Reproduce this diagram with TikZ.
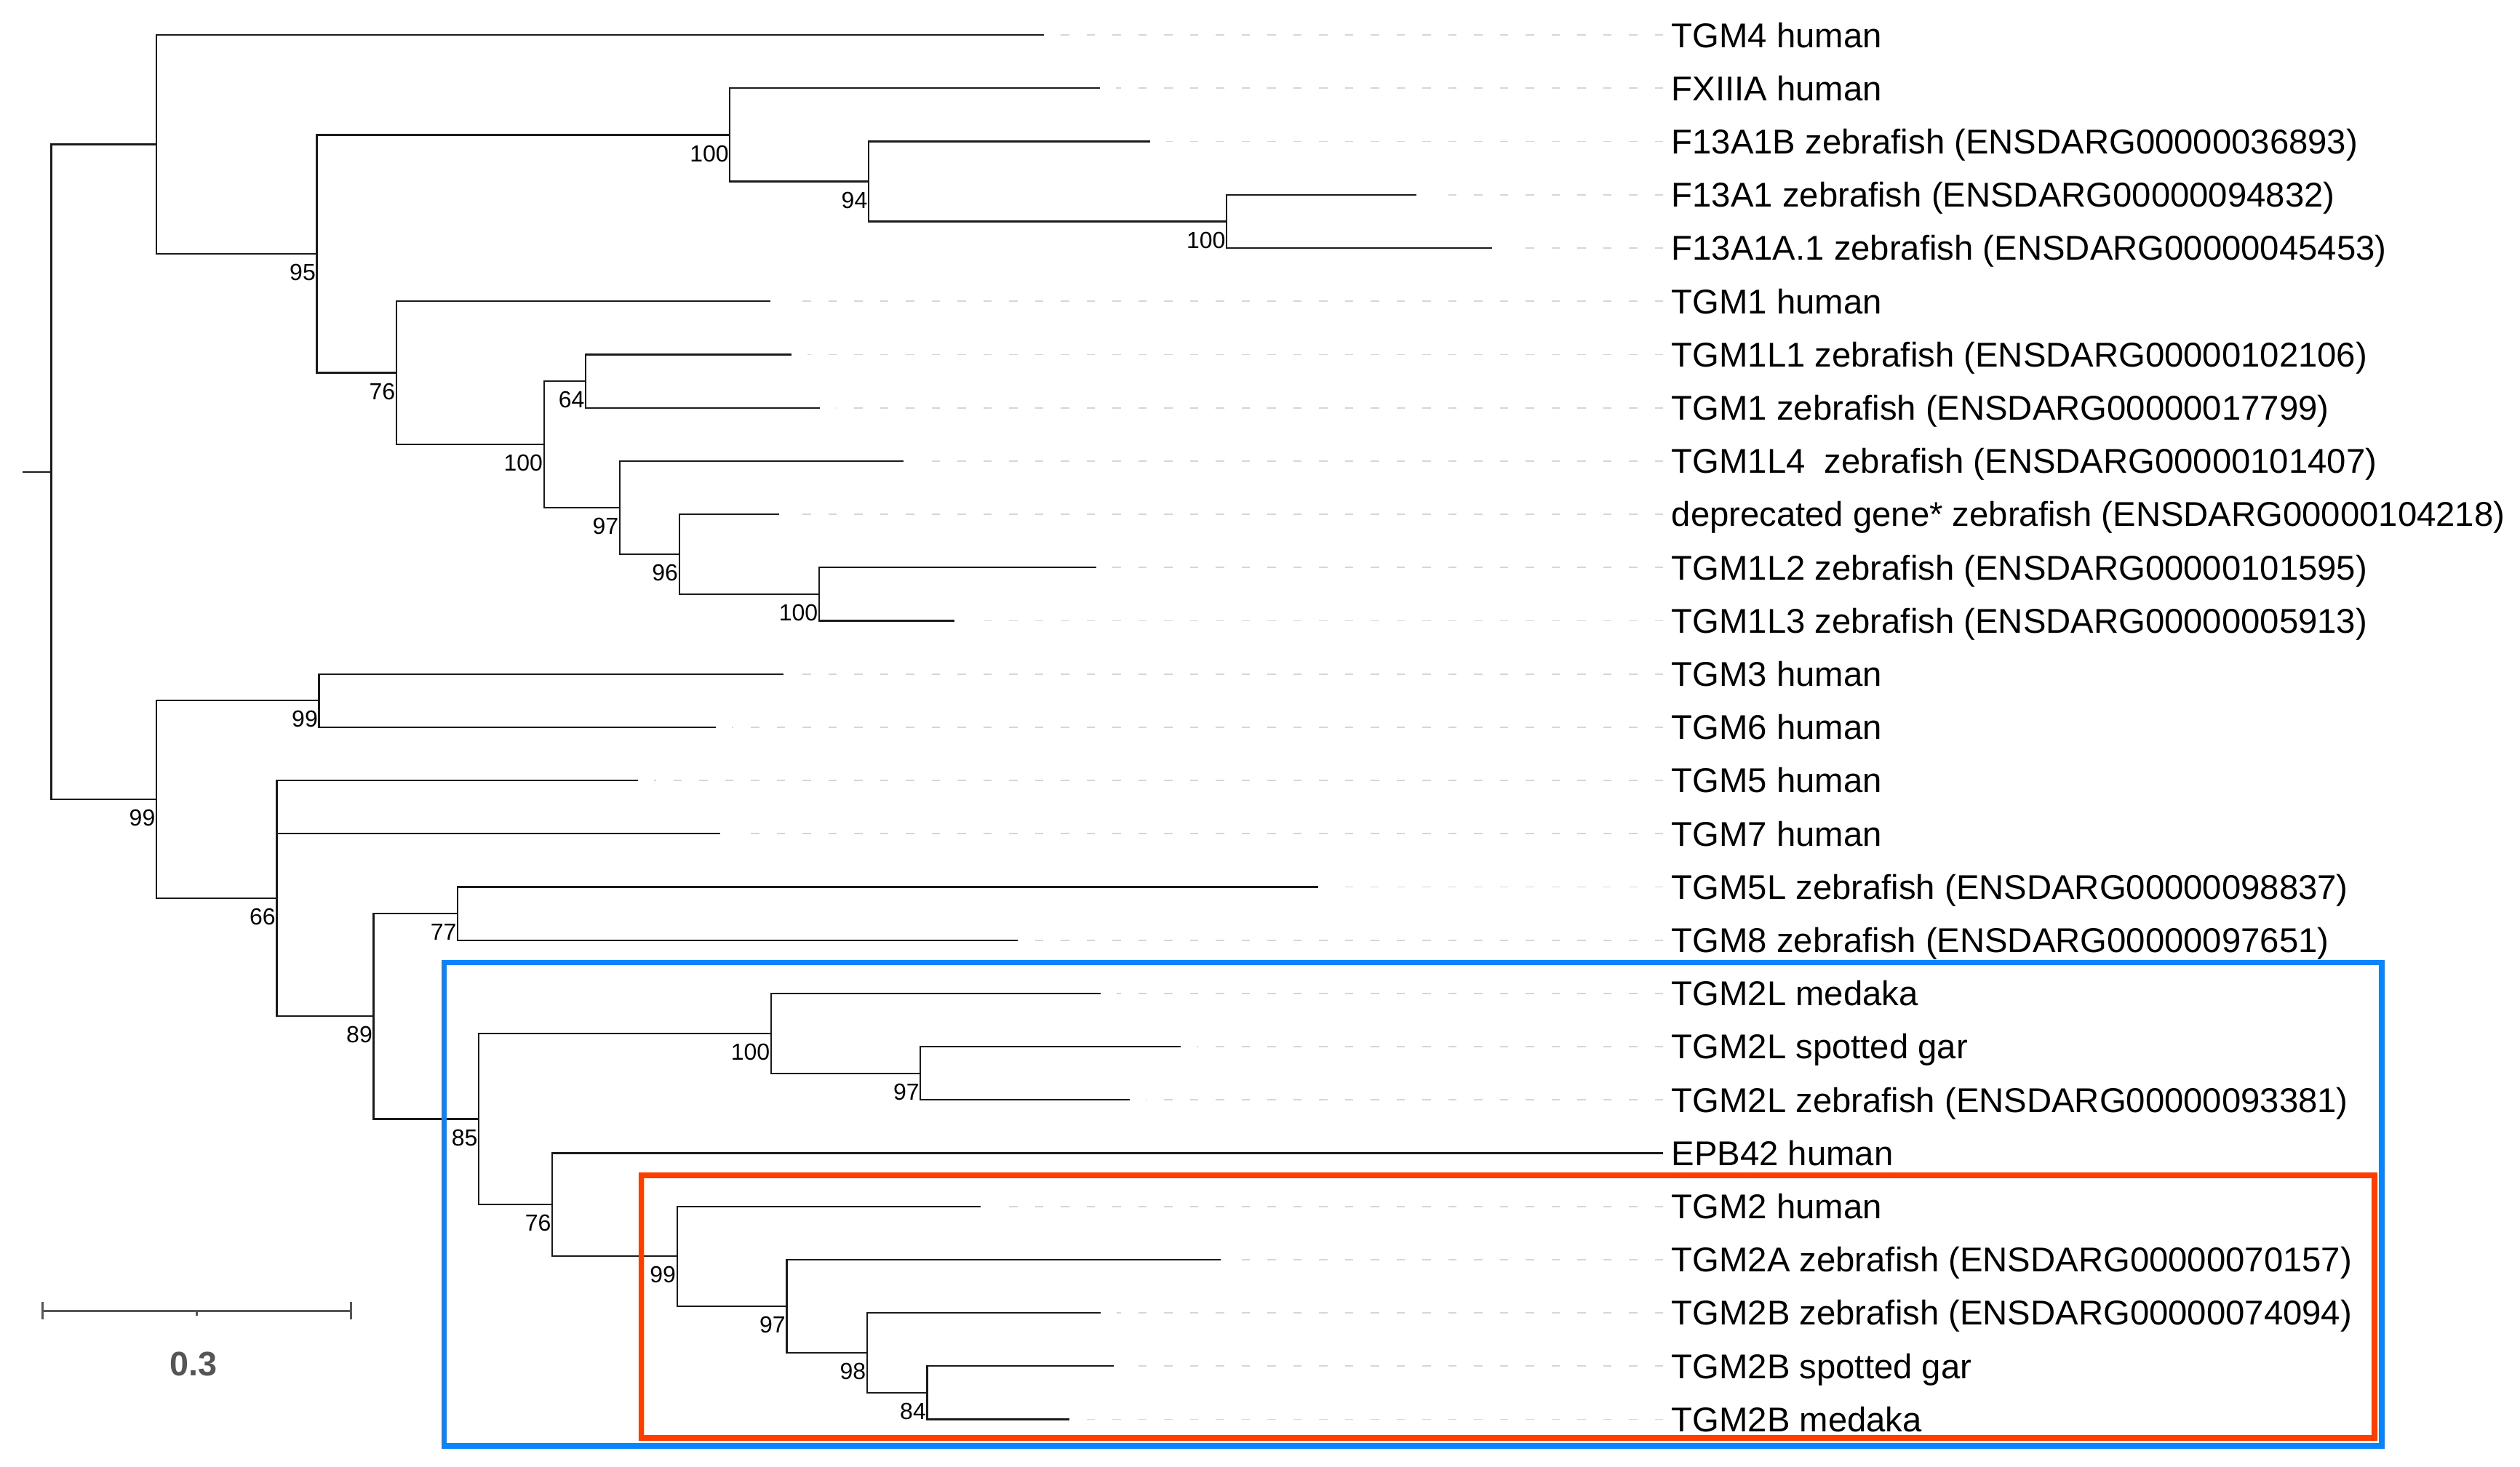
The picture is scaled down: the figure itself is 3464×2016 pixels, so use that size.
\documentclass[tikz,border=0pt]{standalone}
\usepackage{fontspec}
\setmainfont{Liberation Sans}
\definecolor{treeblack}{HTML}{1A1A1A}
\definecolor{guidegray}{HTML}{D6D6D6}
\definecolor{boxblue}{RGB}{8,132,255}
\definecolor{boxred}{RGB}{255,61,0}
\definecolor{scalegray}{HTML}{555555}
\begin{document}
\begin{tikzpicture}[x=0.1mm,y=-0.1mm,
  br/.style={draw=treeblack,line width=0.22mm},
  guide/.style={draw=guidegray,line width=0.18mm,dash pattern=on 1.15mm off 2.4mm},
  leaf/.style={anchor=west,inner sep=0pt,text height=3.38mm,text depth=0pt,font=\fontsize{13.45}{16}\selectfont},
  bs/.style={anchor=base east,inner sep=0pt,font=\fontsize{9.1}{11}\selectfont},
  sbar/.style={draw=scalegray,line width=0.3mm},
  clade/.style={line width=0.75mm}]
\useasboundingbox (0,0) rectangle (3464,2016);
% internal nodes
\coordinate (rootstub) at (30.6,648.9);
\coordinate (root) at (70.4,648.9);
\coordinate (nA) at (215,198.6);
\coordinate (nB) at (435.5,349.0);
\coordinate (nC) at (1003.3,185.45);
\coordinate (nD) at (1194,249.5);
\coordinate (nE) at (1686.2,304.4);
\coordinate (nF) at (544.9,512.55);
\coordinate (nG) at (747.7,610.9);
\coordinate (nH) at (805.1,524.0);
\coordinate (nI) at (851.8,697.85);
\coordinate (nJ) at (933.7,761.9);
\coordinate (nK) at (1125.8,816.8);
\coordinate (nL) at (215,1099.15);
\coordinate (nM) at (438.5,963.2);
\coordinate (nN) at (380.4,1235.1);
\coordinate (nO) at (513.5,1397.25);
\coordinate (nP) at (629.1,1256.0);
\coordinate (nQ) at (658.2,1538.5);
\coordinate (nR) at (1059.9,1420.7);
\coordinate (nS) at (1265.3,1475.6);
\coordinate (nT) at (759.2,1656.3);
\coordinate (nU) at (930.6,1727.2);
\coordinate (nV) at (1081.4,1795.85);
\coordinate (nW) at (1191.8,1859.9);
\coordinate (nX) at (1274.5,1914.8);
% leaf tips
\foreach \i/\x in {0/1435,1/1511.7,2/1580.6,3/1947.2,4/2051.3,5/1059.2,6/1087.5,7/1126.5,8/1242,
  9/1071.4,10/1507.1,11/1312,12/1076.8,13/984.2,14/877,15/990.3,16/1811.7,17/1399.2,18/1512.5,
  19/1622.6,20/1553,21/2286,22/1348,23/1677.8,24/1513.3,25/1530.8,26/1470.3}
  \coordinate (t\i) at (\x,48.2+73.2*\i);
% leaf labels
\foreach \i/\t in {0/TGM4 human,1/FXIIIA human,2/F13A1B zebrafish (ENSDARG00000036893),
  3/F13A1 zebrafish (ENSDARG00000094832),4/F13A1A.1 zebrafish (ENSDARG00000045453),
  5/TGM1 human,6/TGM1L1 zebrafish (ENSDARG00000102106),7/TGM1 zebrafish (ENSDARG00000017799),
  8/TGM1L4\ \ zebrafish (ENSDARG00000101407),9/deprecated gene* zebrafish (ENSDARG00000104218),
  10/TGM1L2 zebrafish (ENSDARG00000101595),11/TGM1L3 zebrafish (ENSDARG00000005913),
  12/TGM3 human,13/TGM6 human,14/TGM5 human,15/TGM7 human,
  16/TGM5L zebrafish (ENSDARG00000098837),17/TGM8 zebrafish (ENSDARG00000097651),
  18/TGM2L medaka,19/TGM2L spotted gar,20/TGM2L zebrafish (ENSDARG00000093381),
  21/EPB42 human,22/TGM2 human,23/TGM2A zebrafish (ENSDARG00000070157),
  24/TGM2B zebrafish (ENSDARG00000074094),25/TGM2B spotted gar,26/TGM2B medaka}
  \node[leaf] (lab\i) at (2297,48.2+73.2*\i) {\t};
% guide lines
\foreach \i in {0,...,20,22,23,24,25,26}
  \draw[guide] ([xshift=-1.1mm]lab\i.west) -- ([xshift=2.2mm]t\i);
% branches
\draw[br] (rootstub) -- (root);
\foreach \p/\c in {root/nA,root/nL,nA/t0,nA/nB,nB/nC,nB/nF,nC/t1,nC/nD,nD/t2,nD/nE,nE/t3,nE/t4,
  nF/t5,nF/nG,nG/nH,nG/nI,nH/t6,nH/t7,nI/t8,nI/nJ,nJ/t9,nJ/nK,nK/t10,nK/t11,
  nL/nM,nL/nN,nM/t12,nM/t13,nN/t14,nN/t15,nN/nO,nO/nP,nO/nQ,nP/t16,nP/t17,
  nQ/nR,nQ/nT,nR/t18,nR/nS,nS/t19,nS/t20,nT/t21,nT/nU,nU/t22,nU/nV,nV/t23,nV/nW,
  nW/t24,nW/nX,nX/t25,nX/t26}
  \draw[br] (\p) |- (\c);
% bootstrap values
\foreach \n/\v in {nB/95,nC/100,nD/94,nE/100,nF/76,nG/100,nH/64,nI/97,nJ/96,nK/100,
  nL/99,nM/99,nN/66,nO/89,nP/77,nQ/85,nR/100,nS/97,nT/76,nU/99,nV/97,nW/98,nX/84}
  \node[bs] (b\n) at ([xshift=-0.1mm,yshift=-3.66mm]\n) {\v};
% scale bar
\coordinate (sbL) at (58.9,1802);
\coordinate (sbR) at (482,1802);
\coordinate (sbM) at (270.5,1802);
\draw[sbar] (sbL) -- (sbR);
\draw[sbar] ([yshift=1.2mm]sbL) -- ([yshift=-1.2mm]sbL);
\draw[sbar] ([yshift=1.2mm]sbR) -- ([yshift=-1.2mm]sbR);
\draw[sbar] (sbM) -- ([yshift=-0.7mm]sbM);
\node[inner sep=0pt,text height=3.4mm,text depth=0pt,text=scalegray,font=\fontsize{13.3}{16}\selectfont\bfseries] (sblab) at (266,1874) {0.3};
% clade boxes
\draw[clade,draw=boxblue] (610.5,1323.7) rectangle (3274,1988);
\draw[clade,draw=boxred] (881.5,1616) rectangle (3264,1977);
\end{tikzpicture}
\end{document}
